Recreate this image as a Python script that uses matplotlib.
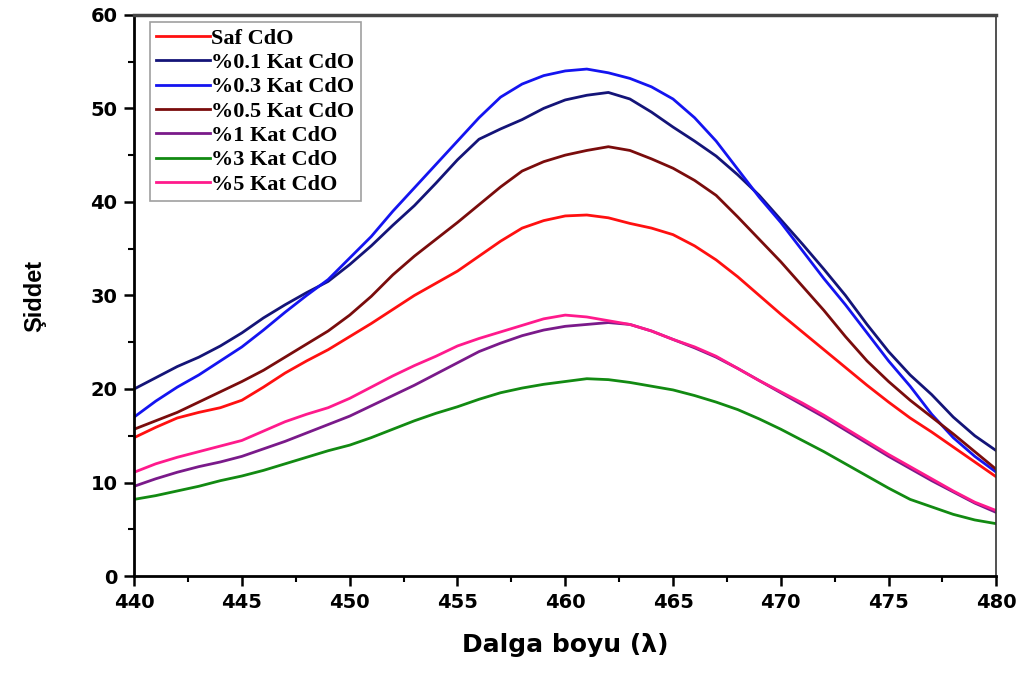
import matplotlib
matplotlib.use("Agg")
import matplotlib.pyplot as plt
from matplotlib.ticker import MultipleLocator

wavelength = list(range(440, 481))

saf = [14.8, 15.9, 16.9, 17.5, 18.0, 18.8, 20.2, 21.7, 23.0, 24.2,
       25.6, 27.0, 28.5, 30.0, 31.3, 32.6, 34.2, 35.8, 37.2, 38.0,
       38.5, 38.6, 38.3, 37.7, 37.2, 36.5, 35.3, 33.8, 32.0, 30.0,
       28.0, 26.1, 24.2, 22.3, 20.4, 18.6, 16.9, 15.4, 13.8, 12.2, 10.6]
kat_01 = [20.0, 21.2, 22.4, 23.4, 24.6, 26.0, 27.6, 29.0, 30.3, 31.5,
          33.3, 35.3, 37.5, 39.6, 42.0, 44.5, 46.7, 47.8, 48.8, 50.0,
          50.9, 51.4, 51.7, 51.0, 49.6, 48.0, 46.5, 44.9, 42.9, 40.7,
          38.1, 35.5, 32.8, 30.0, 26.9, 24.0, 21.5, 19.4, 17.0, 15.0, 13.4]
kat_03 = [17.0, 18.7, 20.2, 21.5, 23.0, 24.5, 26.3, 28.2, 30.0, 31.7,
          34.0, 36.3, 39.0, 41.5, 44.0, 46.5, 49.0, 51.2, 52.6, 53.5,
          54.0, 54.2, 53.8, 53.2, 52.3, 51.0, 49.0, 46.5, 43.5, 40.5,
          37.8, 34.8, 31.8, 29.0, 26.0, 23.0, 20.3, 17.3, 14.8, 12.8, 11.1]
kat_05 = [15.7, 16.6, 17.5, 18.6, 19.7, 20.8, 22.0, 23.4, 24.8, 26.2,
          27.9, 29.9, 32.2, 34.2, 36.0, 37.8, 39.7, 41.6, 43.3, 44.3,
          45.0, 45.5, 45.9, 45.5, 44.6, 43.6, 42.3, 40.7, 38.4, 36.0,
          33.6, 31.0, 28.4, 25.6, 23.0, 20.8, 18.8, 17.0, 15.2, 13.3, 11.4]
kat_1 = [9.6, 10.4, 11.1, 11.7, 12.2, 12.8, 13.6, 14.4, 15.3, 16.2,
         17.1, 18.2, 19.3, 20.4, 21.6, 22.8, 24.0, 24.9, 25.7, 26.3,
         26.7, 26.9, 27.1, 26.9, 26.2, 25.3, 24.4, 23.4, 22.2, 20.9,
         19.6, 18.3, 17.0, 15.6, 14.2, 12.8, 11.5, 10.2, 9.0, 7.8, 6.8]
kat_3 = [8.2, 8.6, 9.1, 9.6, 10.2, 10.7, 11.3, 12.0, 12.7, 13.4,
         14.0, 14.8, 15.7, 16.6, 17.4, 18.1, 18.9, 19.6, 20.1, 20.5,
         20.8, 21.1, 21.0, 20.7, 20.3, 19.9, 19.3, 18.6, 17.8, 16.8,
         15.7, 14.5, 13.3, 12.0, 10.7, 9.4, 8.2, 7.4, 6.6, 6.0, 5.6]
kat_5 = [11.1, 12.0, 12.7, 13.3, 13.9, 14.5, 15.5, 16.5, 17.3, 18.0,
         19.0, 20.2, 21.4, 22.5, 23.5, 24.6, 25.4, 26.1, 26.8, 27.5,
         27.9, 27.7, 27.3, 26.9, 26.2, 25.3, 24.5, 23.5, 22.2, 20.9,
         19.7, 18.5, 17.2, 15.8, 14.4, 13.0, 11.7, 10.4, 9.1, 7.9, 7.0]

labels = ["Saf CdO", "%0.1 Kat CdO", "%0.3 Kat CdO", "%0.5 Kat CdO",
          "%1 Kat CdO", "%3 Kat CdO", "%5 Kat CdO"]
series = [saf, kat_01, kat_03, kat_05, kat_1, kat_3, kat_5]
colors = ["#ff1010", "#141478", "#1414f0", "#7a0c0c", "#7a1a8a", "#128a12", "#ff1a8c"]

fig = plt.figure(figsize=(10.24, 6.73), dpi=100)
ax = fig.add_axes([0.131, 0.144, 0.842, 0.834])

for y, c, lab in zip(series, colors, labels):
    ax.plot(wavelength, y, color=c, lw=2.0, label=lab)

ax.set_xlim(440, 480)
ax.set_ylim(0, 60)
ax.xaxis.set_major_locator(MultipleLocator(5))
ax.xaxis.set_minor_locator(MultipleLocator(2.5))
ax.yaxis.set_major_locator(MultipleLocator(10))
ax.yaxis.set_minor_locator(MultipleLocator(5))
ax.tick_params(which="major", direction="out", length=7, width=1.8, labelsize=14, pad=5)
ax.tick_params(which="minor", direction="out", length=4, width=1.5)
for lbl in ax.get_xticklabels() + ax.get_yticklabels():
    lbl.set_fontweight("bold")
    lbl.set_family("DejaVu Sans")

for side in ["left", "bottom"]:
    ax.spines[side].set_linewidth(2.0)
ax.spines["top"].set_linewidth(2.5)
ax.spines["top"].set_color("#444444")
ax.spines["right"].set_linewidth(1.2)
ax.spines["right"].set_color("#333333")

ax.set_xlabel("Dalga boyu (λ)", fontsize=18, fontweight="bold",
              family="DejaVu Sans", labelpad=15)
ax.set_ylabel("Şiddet", fontsize=17, fontweight="bold",
              family="Liberation Sans", labelpad=32)

leg = ax.legend(loc="upper left", bbox_to_anchor=(0.018, 0.988),
                prop={"family": "Liberation Serif", "weight": "bold", "size": 16},
                frameon=True, fancybox=False, edgecolor="#888888",
                handlelength=2.4, handletextpad=0.05, labelspacing=0.17,
                borderpad=0.3, borderaxespad=0)
leg.get_frame().set_linewidth(1.2)

fig.savefig("out.png", dpi=100)
